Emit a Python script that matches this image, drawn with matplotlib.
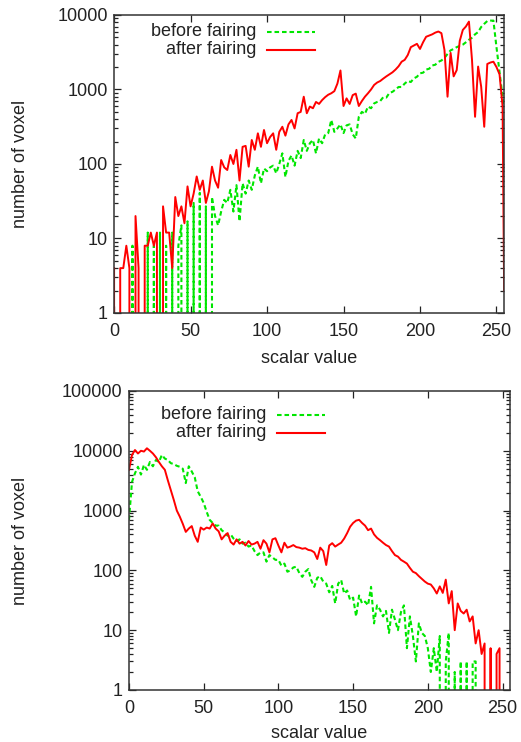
import numpy as np
import matplotlib
matplotlib.use("Agg")
import matplotlib.pyplot as plt
from matplotlib.ticker import FixedLocator, LogLocator, FuncFormatter, NullFormatter

plt.rcParams['font.family'] = ['Liberation Sans', 'DejaVu Sans']

# scalar values (histogram bins, every 2nd bin + last one)
scalar = list(range(0, 256, 2)) + [255]

# top chart: counts
top_before = [0, 0, 0, 0, 0, 0, 8, 0, 0, 0,
              0, 12, 0, 8, 0, 12, 0, 8, 0, 12,
              0, 8, 15, 0, 17, 0, 30, 0, 41, 0,
              27, 0, 36, 20, 15, 23, 33, 30, 45, 23,
              52, 17, 55, 40, 60, 45, 70, 92, 55, 87,
              80, 90, 95, 75, 100, 139, 67, 110, 130, 95,
              150, 120, 210, 150, 190, 210, 139, 220, 190, 250,
              260, 390, 270, 300, 340, 260, 330, 340, 250, 220,
              430, 500, 470, 590, 560, 650, 680, 700, 790, 780,
              900, 930, 1000, 1080, 1080, 1200, 1300, 1260, 1410, 1480,
              1650, 1680, 1850, 1900, 2100, 2150, 2350, 2450, 2650, 3000,
              3350, 3500, 3700, 3850, 4000, 4300, 4650, 4950, 5500, 5900,
              6900, 7600, 8300, 8400, 8400, 3700, 1700, 800,
              600]
top_after = [4, 0, 4, 4, 8, 4, 0, 20, 4, 0,
             8, 8, 12, 8, 12, 0, 27, 12, 12, 4,
             36, 20, 27, 16, 50, 27, 40, 68, 45, 60,
             30, 43, 92, 60, 48, 113, 90, 83, 132, 100,
             155, 60, 170, 175, 92, 210, 155, 258, 170, 286,
             190, 230, 258, 155, 270, 316, 240, 340, 390, 300,
             480, 500, 800, 480, 590, 560, 680, 640, 720, 790,
             850, 890, 950, 1200, 1800, 600, 760, 640, 840, 880,
             600, 700, 800, 890, 1000, 1150, 1240, 1300, 1400, 1500,
             1600, 1700, 1850, 2050, 2360, 2500, 2900, 3700, 3900, 4100,
             3500, 4300, 5100, 5300, 5500, 5800, 6000, 5700, 3390, 800,
             3100, 1500, 1820, 4500, 6300, 7000, 8150, 2500, 430, 2030,
             1090, 316, 2200, 2300, 2360, 2000, 1600, 590,
             2]

# bottom chart
bot_before = [700, 3000, 4200, 5400, 4000, 5800, 4800, 6500, 5500, 7000,
              6500, 8500, 7400, 7000, 6200, 6000, 5600, 5400, 5000, 2880,
              5500, 4500, 3600, 2100, 1700, 1340, 950, 700, 620, 560,
              560, 470, 430, 380, 400, 340, 310, 330, 280, 290,
              250, 260, 210, 180, 200, 200, 140, 180, 165, 150,
              150, 120, 130, 95, 100, 112, 115, 90, 78, 95,
              105, 68, 53, 75, 80, 65, 60, 43, 55, 28,
              60, 69, 41, 46, 32, 35, 17, 38, 28, 30,
              26, 53, 13, 26, 22, 17, 21, 9, 22, 15,
              10, 20, 26, 5, 17, 8, 3, 13, 9, 8,
              5, 2, 5, 2, 8, 0, 3, 9, 0, 2,
              0, 3, 0, 3, 0, 3, 3, 0, 0, 0,
              0, 0, 0, 0, 0, 0, 0, 0,
              0]
bot_after = [4800, 8500, 10300, 9000, 10000, 9700, 11000, 10000, 9000, 7800,
             6500, 5500, 4800, 3200, 2200, 1500, 1000, 790, 600, 440,
             500, 550, 380, 300, 520, 480, 520, 500, 610, 500,
             450, 330, 380, 420, 300, 270, 330, 280, 300, 260,
             310, 270, 280, 300, 230, 320, 280, 200, 330, 345,
             260, 200, 290, 240, 250, 265, 245, 240, 230, 235,
             220, 215, 200, 155, 240, 210, 123, 260, 285, 250,
             270, 290, 340, 420, 537, 620, 680, 700, 620, 560,
             470, 500, 400, 350, 320, 290, 265, 250, 210, 180,
             170, 150, 140, 130, 110, 95, 90, 80, 72, 65,
             60, 58, 50, 41, 54, 42, 70, 28, 45, 10,
             28, 21, 19, 22, 14, 17, 6, 10, 4, 6,
             0, 5, 0, 4, 5, 0, 0, 0,
             0]

labels = ["before fairing", "after fairing"]
green = "#00e600"
red = "#ff0000"
green_ls = (0, (2.2, 1.4))

fig = plt.figure(figsize=(5.21, 7.42), dpi=100)
ax1 = fig.add_axes([0.219, 0.5782, 0.7486, 0.4016])
ax2 = fig.add_axes([0.2476, 0.0701, 0.7313, 0.4030])


def style(ax, ymax, xlab_y, ylab_x, leg):
    ax.set_yscale('log')
    ax.set_xlim(0, 255)
    ax.set_ylim(1, ymax)
    ax.xaxis.set_major_locator(FixedLocator([0, 50, 100, 150, 200, 250]))
    ax.yaxis.set_major_locator(LogLocator(base=10))
    ax.yaxis.set_minor_locator(LogLocator(base=10, subs=np.arange(2, 10)))
    ax.yaxis.set_major_formatter(FuncFormatter(lambda v, p: "%d" % round(v)))
    ax.yaxis.set_minor_formatter(NullFormatter())
    ax.tick_params(axis='both', which='both', direction='in', top=True, right=True,
                   labelsize=13, colors='#222222', width=0.9)
    ax.tick_params(axis='both', which='major', length=5)
    ax.tick_params(axis='y', which='minor', length=2.6)
    ax.tick_params(axis='x', pad=7.5)
    ax.tick_params(axis='y', pad=4.5)
    for sp in ax.spines.values():
        sp.set_color('#333333')
        sp.set_linewidth(1.1)
    ax.set_xlabel("scalar value", fontsize=13, color='#222222')
    ax.set_ylabel("number of voxel", fontsize=13, color='#222222')
    ax.xaxis.set_label_coords(0.5, xlab_y)
    ax.yaxis.set_label_coords(ylab_x, 0.5)
    # gnuplot-like key: text right aligned, sample line on the right
    tx, lx0, lx1, y0, y1 = leg
    for yy, lab, col, ls in [(y0, labels[0], green, green_ls), (y1, labels[1], red, '-')]:
        ax.text(tx, yy, lab, transform=ax.transAxes, ha='right', va='center',
                fontsize=13, color='#222222')
        ax.plot([lx0, lx1], [yy, yy], transform=ax.transAxes, color=col,
                lw=1.5, ls=ls, clip_on=False)


ax1.plot(scalar, top_before, color=green, lw=1.5, ls=green_ls)
ax1.plot(scalar, top_after, color=red, lw=1.4)
style(ax1, 10000, -0.125, -0.218, (0.364, 0.392, 0.515, 0.943, 0.883))

ax2.plot(scalar, bot_before, color=green, lw=1.5, ls=green_ls)
ax2.plot(scalar, bot_after, color=red, lw=1.4)
style(ax2, 100000, -0.116, -0.262, (0.361, 0.388, 0.514, 0.920, 0.860))

fig.savefig("out.png", dpi=100)
